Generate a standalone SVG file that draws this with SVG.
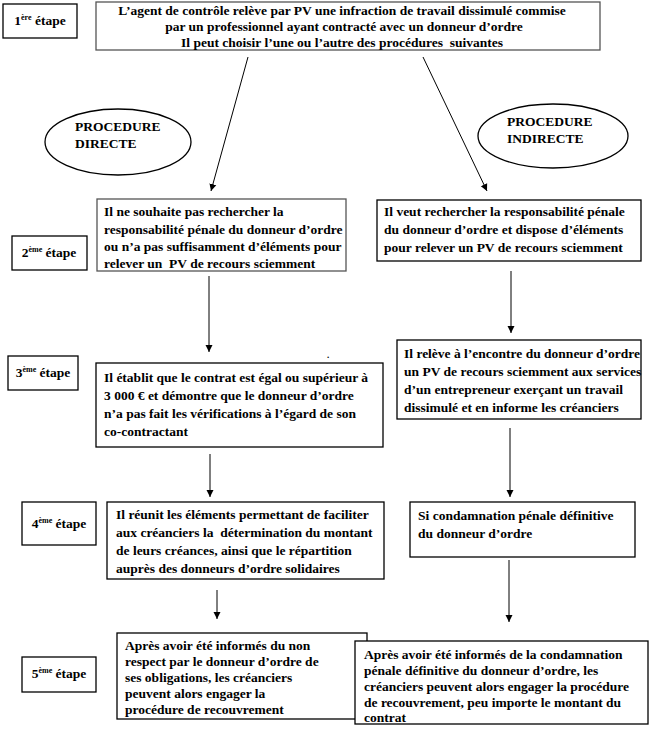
<svg xmlns="http://www.w3.org/2000/svg" width="653" height="730" viewBox="0 0 653 730" xml:space="preserve">
<style>
.b{fill:#fff;stroke:#000;stroke-width:1.3}
.g{fill:#fff;stroke:#555;stroke-width:1.3}
.t{font-family:"Liberation Serif","Times New Roman",serif;font-weight:bold;font-size:13.5px;fill:#000;white-space:pre}
.c{text-anchor:middle}
.sup{font-size:8px}
.a{stroke:#000;stroke-width:1;fill:none;marker-end:url(#ah)}
</style>
<defs>
<marker id="ah" viewBox="0 0 10 10" refX="10" refY="5" markerWidth="7" markerHeight="8" markerUnits="userSpaceOnUse" orient="auto">
<path d="M0,0 L10,5 L0,10 z" fill="#000"/>
</marker>
</defs>
<rect width="653" height="730" fill="#fff"/>

<g id="step1">
<rect class="b" x="3" y="4" width="74" height="34"/>
<text class="t c" x="40" y="25">1<tspan class="sup" dy="-5">ère</tspan><tspan dy="5"> étape</tspan></text>
</g>
<g id="top">
<rect class="g" x="96" y="2" width="504" height="48"/>
<text class="t c" x="342" y="15">L’agent de contrôle relève par PV une infraction de travail dissimulé commise</text>
<text class="t c" x="344" y="31">par un professionnel ayant contracté avec un donneur d’ordre</text>
<text class="t c" x="342" y="47">Il peut choisir l’une ou l’autre des procédures  suivantes</text>
</g>
<g id="proc_directe">
<ellipse class="b" cx="118" cy="142" rx="73" ry="33"/>
<text class="t" x="75" y="131">PROCEDURE</text>
<text class="t" x="75" y="148">DIRECTE</text>
</g>
<g id="proc_indirecte">
<ellipse class="b" cx="553" cy="136" rx="75" ry="32"/>
<text class="t" x="507" y="126">PROCEDURE</text>
<text class="t" x="507" y="143">INDIRECTE</text>
</g>

<g id="step2">
<rect class="b" x="12" y="236" width="75" height="34"/>
<text class="t c" x="49" y="257">2<tspan class="sup" dy="-5">ème</tspan><tspan dy="5"> étape</tspan></text>
</g>
<g id="box2l">
<rect class="g" x="97" y="199" width="249" height="72"/>
<text class="t" x="104" y="216">Il ne souhaite pas rechercher la</text>
<text class="t" x="104" y="234">responsabilité pénale du donneur d’ordre</text>
<text class="t" x="104" y="251">ou n’a pas suffisamment d’éléments pour</text>
<text class="t" x="104" y="268">relever un  PV de recours sciemment</text>
</g>
<g id="box2r">
<rect class="b" x="377" y="200" width="264" height="61"/>
<text class="t" x="384" y="216">Il veut rechercher la responsabilité pénale</text>
<text class="t" x="384" y="234">du donneur d’ordre et dispose d’éléments</text>
<text class="t" x="384" y="252">pour relever un PV de recours sciemment</text>
</g>

<g id="step3">
<rect class="b" x="8" y="356" width="70" height="34"/>
<text class="t c" x="43" y="377">3<tspan class="sup" dy="-5">ème</tspan><tspan dy="5"> étape</tspan></text>
</g>
<g id="box3l">
<rect class="b" x="96" y="363" width="287" height="84"/>
<text class="t" x="104" y="382">Il établit que le contrat est égal ou supérieur à</text>
<text class="t" x="104" y="400">3 000 € et démontre que le donneur d’ordre</text>
<text class="t" x="104" y="418">n’a pas fait les vérifications à l’égard de son</text>
<text class="t" x="104" y="436">co-contractant</text>
</g>
<text class="t" x="327" y="358" style="font-size:9px">.</text>
<g id="box3r">
<rect class="b" x="397" y="340" width="244" height="79"/>
<text class="t" x="404" y="358">Il relève à l’encontre du donneur d’ordre</text>
<text class="t" x="404" y="376">un PV de recours sciemment aux services</text>
<text class="t" x="404" y="394">d’un entrepreneur exerçant un travail</text>
<text class="t" x="404" y="412">dissimulé et en informe les créanciers</text>
</g>

<g id="step4">
<rect class="b" x="22" y="502" width="74" height="43"/>
<text class="t c" x="59" y="528">4<tspan class="sup" dy="-5">ème</tspan><tspan dy="5"> étape</tspan></text>
</g>
<g id="box4l">
<rect class="b" x="107" y="502" width="277" height="77"/>
<text class="t" x="116" y="519">Il réunit les éléments permettant de faciliter</text>
<text class="t" x="116" y="537">aux créanciers la  détermination du montant</text>
<text class="t" x="116" y="555">de leurs créances, ainsi que le répartition</text>
<text class="t" x="116" y="573">auprès des donneurs d’ordre solidaires</text>
</g>
<g id="box4r">
<rect class="b" x="410" y="502" width="225" height="55"/>
<text class="t" x="418" y="520">Si condamnation pénale définitive</text>
<text class="t" x="418" y="538">du donneur d’ordre</text>
</g>

<g id="step5">
<rect class="b" x="22" y="657" width="74" height="35"/>
<text class="t c" x="59" y="678">5<tspan class="sup" dy="-5">ème</tspan><tspan dy="5"> étape</tspan></text>
</g>
<g id="box5l">
<rect class="b" x="117" y="633" width="250" height="86"/>
<text class="t" x="125" y="650">Après avoir été informés du non</text>
<text class="t" x="125" y="666">respect par le donneur d’ordre de</text>
<text class="t" x="125" y="682">ses obligations, les créanciers</text>
<text class="t" x="125" y="698">peuvent alors engager la</text>
<text class="t" x="125" y="714">procédure de recouvrement</text>
</g>
<g id="box5r">
<rect class="b" x="355" y="641" width="293" height="83"/>
<text class="t" x="364" y="659">Après avoir été informés de la condamnation</text>
<text class="t" x="364" y="675">pénale définitive du donneur d’ordre, les</text>
<text class="t" x="364" y="691">créanciers peuvent alors engager la procédure</text>
<text class="t" x="364" y="707">de recouvrement, peu importe le montant du</text>
<text class="t" x="364" y="722">contrat</text>
</g>

<g id="connectors">
<line class="a" x1="248" y1="57" x2="211" y2="191"/>
<line class="a" x1="423" y1="57" x2="487" y2="191"/>
<line class="a" x1="209" y1="276" x2="209" y2="352"/>
<line class="a" x1="511" y1="271" x2="511" y2="333"/>
<line class="a" x1="210" y1="454" x2="210" y2="497"/>
<line class="a" x1="510" y1="428" x2="510" y2="497"/>
<line class="a" x1="217" y1="590" x2="217" y2="619"/>
<line class="a" x1="509" y1="560" x2="509" y2="622"/>
</g>
</svg>
